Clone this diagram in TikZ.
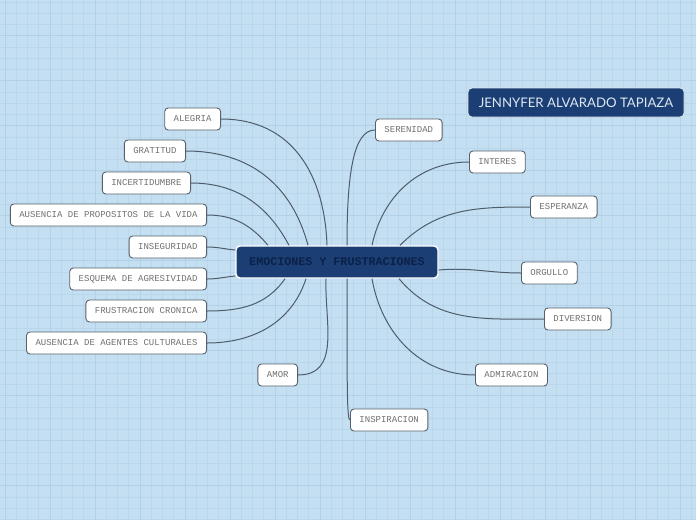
\documentclass[tikz,border=0pt]{standalone}
\usepackage{fontspec}
\setmonofont{Liberation Mono}
\newfontfamily\titlefont{Lato}
\definecolor{bgc}{HTML}{C4DFF1}
\definecolor{gridminor}{HTML}{BAD6EB}
\definecolor{gridmajor}{HTML}{B2D0E7}
\definecolor{navy}{HTML}{1B3F74}
\definecolor{centertext}{HTML}{0B2148}
\definecolor{leaftext}{HTML}{707070}
\definecolor{leafborder}{HTML}{56616C}
\definecolor{linkc}{HTML}{4E5D6C}
\definecolor{titletext}{HTML}{DDE7F2}
\tikzset{
  leaf/.style={draw=leafborder, line width=0.9pt, fill=white, rounded corners=3.5pt,
    minimum height=22pt, inner xsep=9pt, inner ysep=0pt,
    font=\ttfamily\fontsize{9}{10}\selectfont, text=leaftext},
  lleaf/.style={leaf, anchor=east},
  rleaf/.style={leaf, anchor=west},
  centerbox/.style={draw=white, line width=1.4pt, fill=navy, rounded corners=4pt,
    minimum height=32pt, minimum width=202pt, inner sep=0pt,
    font=\ttfamily\bfseries\fontsize{11.7}{12}\selectfont, text=centertext},
  titlebox/.style={draw=white!85!navy, line width=0.8pt, fill=navy, rounded corners=4pt,
    minimum height=29pt, minimum width=216pt, inner sep=0pt,
    font=\titlefont\fontsize{13.2}{14}\selectfont, text=titletext},
  link/.style={draw=linkc, line width=1pt}
}
\begin{document}
\begin{tikzpicture}[x=1pt,y=-1pt]
\useasboundingbox (0,0) rectangle (696,520);
\fill[bgc] (0,0) rectangle (696,520);
% grid
\foreach \i in {0,...,62} {
  \pgfmathsetmacro{\xx}{5+11.25*\i}
  \draw[gridminor, line width=0.6pt] (\xx,0) -- (\xx,520);
}
\foreach \i in {0,...,46} {
  \pgfmathsetmacro{\yy}{2+11.25*\i}
  \draw[gridminor, line width=0.6pt] (0,\yy) -- (696,\yy);
}
\foreach \i in {0,...,15} {
  \pgfmathsetmacro{\xx}{5.7+45*\i}
  \draw[gridmajor, line width=0.8pt] (\xx,0) -- (\xx,520);
}
\foreach \i in {0,...,11} {
  \pgfmathsetmacro{\yy}{35.7+45*\i}
  \draw[gridmajor, line width=0.8pt] (0,\yy) -- (696,\yy);
}
% leaves
\node[lleaf] (alegria) at (221,119) {ALEGRIA};
\node[lleaf] (gratitud) at (186,151) {GRATITUD};
\node[lleaf] (incert) at (191,183) {INCERTIDUMBRE};
\node[lleaf] (auprop) at (207,215) {AUSENCIA DE PROPOSITOS DE LA VIDA};
\node[lleaf] (inseg) at (207,247) {INSEGURIDAD};
\node[lleaf] (esquema) at (207,279) {ESQUEMA DE AGRESIVIDAD};
\node[lleaf] (frustra) at (207,311) {FRUSTRACION CRONICA};
\node[lleaf] (auagen) at (207,343) {AUSENCIA DE AGENTES CULTURALES};
\node[lleaf] (amor) at (298,375) {AMOR};
\node[rleaf] (seren) at (375,130) {SERENIDAD};
\node[rleaf] (interes) at (469,162) {INTERES};
\node[rleaf] (esper) at (530,207) {ESPERANZA};
\node[rleaf] (orgullo) at (521,273) {ORGULLO};
\node[rleaf] (divers) at (544,319) {DIVERSION};
\node[rleaf] (admir) at (475,375) {ADMIRACION};
\node[rleaf] (inspir) at (350,420) {INSPIRACION};
\node[centerbox] (c) at (337,262) {EMOCIONES Y FRUSTRACIONES};
\node[titlebox] (title) at (576,102.5) {JENNYFER ALVARADO TAPIAZA};
% links
\draw[link] (alegria.east) to[out=0,in=92,looseness=1.1] ([xshift=-10pt]c.north);
\draw[link] (gratitud.east) to[out=0,in=105,looseness=1.05] ([xshift=-29pt]c.north);
\draw[link] (incert.east) to[out=0,in=118] ([xshift=-48pt]c.north);
\draw[link] (auprop.east) to[out=0,in=130] ([xshift=-69pt]c.north);
\draw[link] (inseg.east) to[out=0,in=175] ([yshift=12pt]c.west);
\draw[link] (esquema.east) to[out=0,in=185] ([yshift=-14pt]c.west);
\draw[link] (frustra.east) to[out=0,in=235] ([xshift=-52pt]c.south);
\draw[link] (auagen.east) to[out=0,in=252] ([xshift=-31pt]c.south);
\draw[link] (amor.east) to[out=0,in=268,looseness=1.1] ([xshift=-11pt]c.south);
\draw[link] (seren.west) .. controls +(-22,0) and +(0,-70) .. ([xshift=10pt]c.north);
\draw[link] (interes.west) to[out=180,in=78] ([xshift=35pt]c.north);
\draw[link] (esper.west) to[out=180,in=45] ([xshift=63pt]c.north);
\draw[link] (orgullo.west) to[out=180,in=5] ([yshift=-8pt]c.east);
\draw[link] (divers.west) to[out=180,in=310] ([xshift=62pt]c.south);
\draw[link] (admir.west) to[out=180,in=280] ([xshift=35pt]c.south);
\draw[link] (inspir.west) .. controls +(-3,0) and +(0,110) .. ([xshift=10pt]c.south);
\end{tikzpicture}
\end{document}
